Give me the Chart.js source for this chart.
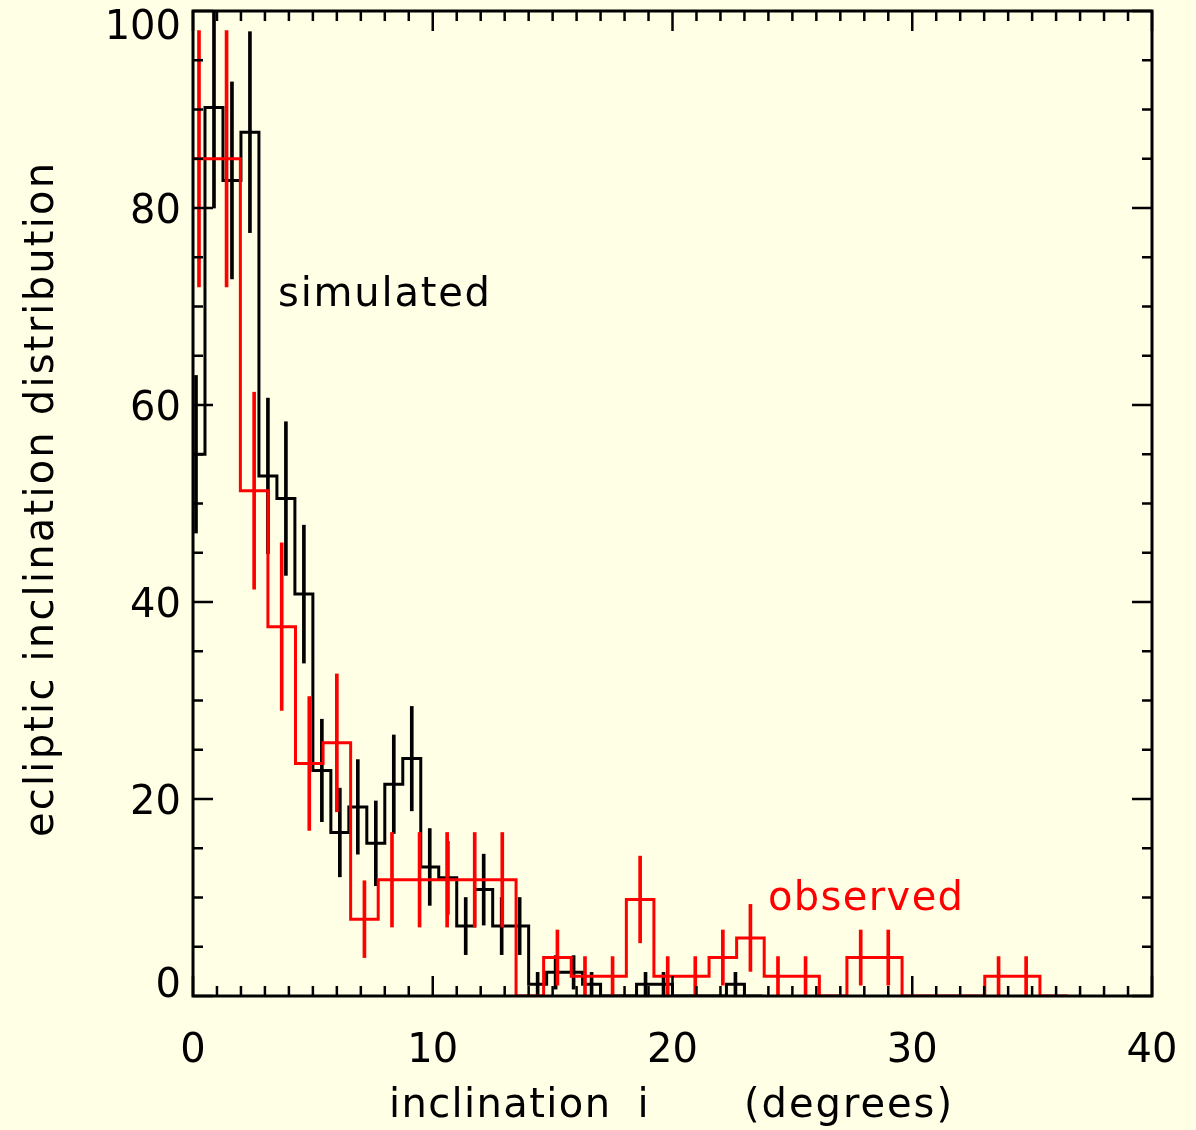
<!DOCTYPE html>
<html>
<head>
<meta charset="utf-8">
<script src="https://cdn.jsdelivr.net/npm/chart.js@4.4.1/dist/chart.umd.min.js"></script>
<style>
  html, body { margin: 0; padding: 0; background: #ffffe5; }
  #wrap { width: 1196px; height: 1130px; }
</style>
</head>
<body>
<div id="wrap"><canvas id="chart" width="1196" height="1130"></canvas></div>
<script>
/* ================= DATA ================= */

// simulated histogram (black): bin edges (degrees), heights, error half-lengths
const simEdges = [-0.25, 0.5, 1.25, 2.0, 2.75, 3.5, 4.25, 5.0, 5.75, 6.5, 7.25, 8.0,
  8.75, 9.5, 10.25, 11.0, 11.75, 12.5, 13.25, 14.0, 14.75, 15.5, 16.25, 17.0,
  17.75, 18.5, 19.25, 20.0, 20.75, 21.5, 22.25, 23.0, 23.75];
const simValues = [55, 90.2, 82.8, 87.7, 52.8, 50.5, 40.8, 22.9, 16.6, 19.2, 15.5, 21.5,
  24.1, 13.1, 12.0, 7.1, 10.8, 7.1, 7.1, 1.2, 2.4, 2.4, 1.2, 0,
  0, 1.2, 1.2, 0, 0, 0, 1.2, 0];
const simErrors = [8, 10.2, 10, 10.2, 7.9, 7.8, 7, 5.2, 4.5, 4.8, 4.3, 5,
  5.3, 3.9, 3.7, 2.9, 3.6, 2.9, 2.9, 1.2, 1.7, 1.7, 1.2, 0,
  0, 1.2, 1.2, 0, 0, 0, 1.2, 0];

// observed histogram (red)
const obsEdges = [-0.325, 0.825, 1.975, 3.125, 4.275, 5.425, 6.575, 7.725, 8.875,
  10.025, 11.175, 12.325, 13.475, 14.625, 15.775, 16.925, 18.075, 19.225, 20.375,
  21.525, 22.675, 23.825, 24.975, 26.125, 27.275, 28.425, 29.575, 30.725, 31.875,
  33.025, 34.175, 35.325, 36.475];
const obsValues = [85, 85, 51.3, 37.5, 23.6, 25.7, 7.8, 11.8, 11.8, 11.8, 11.8, 11.8,
  0, 3.9, 2, 2, 9.8, 2, 2, 3.9, 5.9, 2, 2, 0,
  3.9, 3.9, 0, 0, 0, 2, 2, 0];
const obsErrors = [13, 13, 10, 8.5, 6.8, 7, 3.9, 4.8, 4.8, 4.8, 4.8, 4.8,
  0, 2.8, 2, 2, 4.4, 2, 2, 2.8, 3.4, 2, 2, 0,
  2.8, 2.8, 0, 0, 0, 2, 2, 0];

const xTickLabels = ["0", "10", "20", "30", "40"];
const yTickLabels = ["0", "20", "40", "60", "80", "100"];

/* ================= HELPERS ================= */

const BG = "#ffffe5";
const FONT = "40px 'DejaVu Sans'";

function stepPoints(edges, values) {
  const pts = values.map((v, i) => ({ x: edges[i], y: v }));
  pts.push({ x: edges[edges.length - 1], y: values[values.length - 1] });
  return pts;
}

function errorBars(edges, values, errors) {
  const bars = [];
  values.forEach((v, i) => {
    if (!errors[i]) return;
    bars.push({ x: (edges[i] + edges[i + 1]) / 2, y: [v - errors[i], v + errors[i]] });
  });
  return bars;
}

// draw text starting at x, stretched with letter spacing to a given width
function fitText(ctx, text, x, y, width) {
  ctx.letterSpacing = "0px";
  const w0 = ctx.measureText(text).width;
  if (text.length > 1) ctx.letterSpacing = ((width - w0) / (text.length - 1)) + "px";
  ctx.textAlign = "left";
  ctx.fillText(text, x, y);
  ctx.letterSpacing = "0px";
}

/* ================= FRAME, TICKS, TEXT ================= */

const framePlugin = {
  id: "frame",
  beforeDraw(chart) {
    const ctx = chart.ctx;
    ctx.save();
    ctx.fillStyle = BG;
    ctx.fillRect(0, 0, chart.width, chart.height);
    ctx.restore();
  },
  afterDraw(chart) {
    const { ctx, chartArea: a, scales: { x, y } } = chart;
    ctx.save();
    ctx.strokeStyle = "#000";
    ctx.lineCap = "butt";

    ctx.lineWidth = 2.5;
    ctx.beginPath();
    x.ticks.forEach(t => {
      const px = x.getPixelForValue(t.value);
      const len = t.value % 10 === 0 ? 20 : 10;
      ctx.moveTo(px, a.bottom); ctx.lineTo(px, a.bottom - len);
      ctx.moveTo(px, a.top); ctx.lineTo(px, a.top + len);
    });
    y.ticks.forEach(t => {
      const py = y.getPixelForValue(t.value);
      const len = t.value % 20 === 0 ? 20 : 10;
      ctx.moveTo(a.left, py); ctx.lineTo(a.left + len, py);
      ctx.moveTo(a.right, py); ctx.lineTo(a.right - len, py);
    });
    ctx.stroke();

    ctx.lineWidth = 3;
    ctx.strokeRect(a.left, a.top, a.right - a.left, a.bottom - a.top);

    // tick labels
    ctx.fillStyle = "#000";
    ctx.font = FONT;
    ctx.textBaseline = "alphabetic";
    ctx.textAlign = "center";
    xTickLabels.forEach(l => {
      ctx.fillText(l, x.getPixelForValue(Number(l)), 1062);
    });
    ctx.textAlign = "right";
    yTickLabels.forEach((l, i) => {
      const py = y.getPixelForValue(Number(l));
      let off = 15;
      if (i === 0) off = 1;
      if (i === yTickLabels.length - 1) off = 28;
      ctx.fillText(l, a.left - 12, py + off);
    });

    // axis titles
    fitText(ctx, "inclination", 389, 1117, 221);
    ctx.textAlign = "center";
    ctx.fillText("i", 643, 1117);
    fitText(ctx, "(degrees)", 744, 1117, 208);

    ctx.save();
    ctx.translate(53, 837);
    ctx.rotate(-Math.PI / 2);
    fitText(ctx, "ecliptic inclination distribution", 0, 0, 674);
    ctx.restore();

    // series annotations
    fitText(ctx, "simulated", 278, 306, 212);
    ctx.fillStyle = "#ff0000";
    fitText(ctx, "observed", 768, 910, 195);

    ctx.restore();
  }
};

/* ================= CHART ================= */

new Chart(document.getElementById("chart"), {
  type: "line",
  data: {
    datasets: [
      {
        data: stepPoints(obsEdges, obsValues),
        stepped: "before",
        borderColor: "#ff0000",
        borderWidth: 3,
        pointRadius: 0,
        fill: false,
        order: 0
      },
      {
        type: "bar",
        data: errorBars(obsEdges, obsValues, obsErrors),
        backgroundColor: "#ff0000",
        barThickness: 3,
        grouped: false,
        order: 0
      },
      {
        data: stepPoints(simEdges, simValues),
        stepped: "before",
        borderColor: "#000000",
        borderWidth: 3,
        pointRadius: 0,
        fill: false,
        order: 1
      },
      {
        type: "bar",
        data: errorBars(simEdges, simValues, simErrors),
        backgroundColor: "#000000",
        barThickness: 3,
        grouped: false,
        order: 1
      }
    ]
  },
  options: {
    responsive: false,
    devicePixelRatio: 1,
    animation: false,
    layout: { padding: { top: 11, right: 44, left: 0, bottom: 0 } },
    plugins: { legend: { display: false }, tooltip: { enabled: false } },
    scales: {
      x: {
        type: "linear",
        min: 0,
        max: 40,
        offset: false,
        ticks: { display: false, stepSize: 1, maxTicksLimit: 100 },
        grid: { display: false },
        border: { display: false },
        afterFit: s => { s.height = 134; }
      },
      y: {
        type: "linear",
        min: 0,
        max: 100,
        ticks: { display: false, stepSize: 5, maxTicksLimit: 100 },
        grid: { display: false },
        border: { display: false },
        afterFit: s => { s.width = 193; }
      }
    }
  },
  plugins: [framePlugin]
});
</script>
</body>
</html>
